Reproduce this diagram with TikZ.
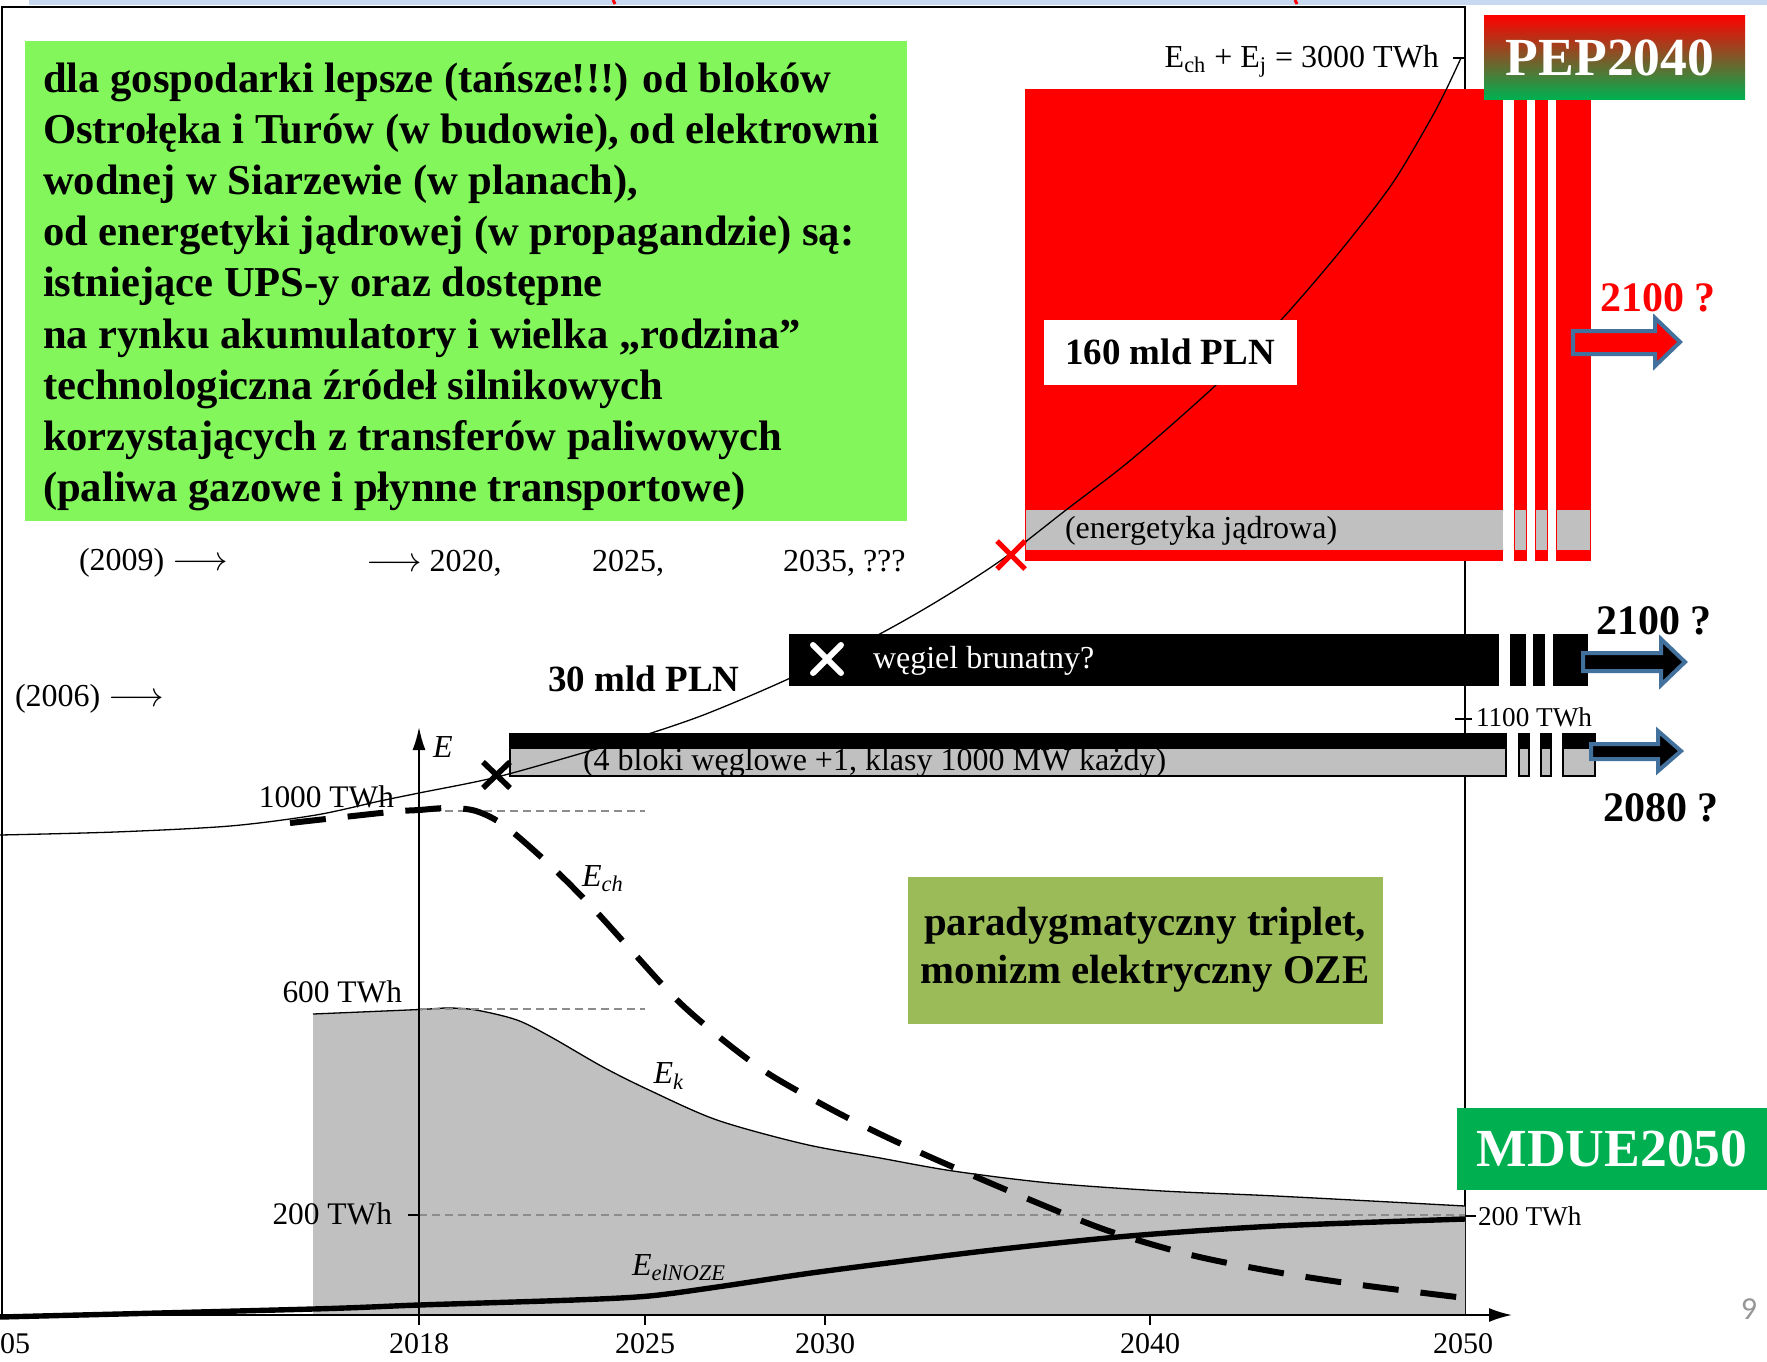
\documentclass[tikz,border=0pt]{standalone}
\usepackage{fontspec}
\setmainfont{Liberation Serif}
\newfontfamily\pagefont{Carlito}
\usetikzlibrary{arrows.meta}
\definecolor{cLime}{RGB}{130,246,90}
\definecolor{cOlive}{RGB}{155,187,89}
\definecolor{cMdue}{RGB}{0,176,80}
\definecolor{cArrow}{RGB}{65,113,156}
\definecolor{cGrayFill}{RGB}{192,192,192}
\definecolor{cDash}{RGB}{140,140,140}
\definecolor{cBand}{RGB}{198,217,241}
\definecolor{cPage}{RGB}{150,150,150}
\newcommand\setfs[2]{\fontsize{#1}{#2}\selectfont}
\tikzset{
  every node/.style={inner sep=0pt, outer sep=0pt},
  chartlbl/.style={font=\setfs{16}{19}},
  axlbl/.style={font=\setfs{15.7}{19}},
  smalllbl/.style={font=\setfs{13.6}{16}},
  yearlbl/.style={font=\setfs{15}{18}},
  boldlbl/.style={font=\bfseries\setfs{18.5}{22}},
  bigq/.style={font=\bfseries\setfs{21}{25}},
  badge/.style={font=\bfseries\setfs{26.8}{30}, text=white},
  gline/.style={font=\bfseries\setfs{21.3}{25.5}, anchor=base west},
  thincurve/.style={line width=0.65pt},
  graydash/.style={cDash, line width=1pt, dash pattern=on 4pt off 2.5pt},
  thickdash/.style={line width=3pt, dash pattern=on 18pt off 11pt},
  blockarrow/.style={draw=cArrow, line width=2pt, line join=miter},
  xmark/.style={line width=2.8pt}
}
\begin{document}
\begin{tikzpicture}[x=0.5pt,y=-0.5pt]
\useasboundingbox (0,0) rectangle (1767,1361);
\fill[white] (0,0) rectangle (1767,1361);

% top band
\fill[cBand] (29,0) rectangle (1767,4.5);
\draw[red, line width=1.5pt] (613,0) -- (615,4);
\draw[red, line width=1.5pt] (1295,0) -- (1297,4);

% frame
\draw[line width=0.75pt] (2,7) rectangle (1465,1315);

% green text box
\fill[cLime] (25,41) rectangle (907,521);
\node[gline] (g1) at (43,92) {dla gospodarki lepsze (tańsze!!!) od bloków};
\node[gline] (g2) at (43,143) {Ostrołęka i Turów (w budowie), od elektrowni};
\node[gline] (g3) at (43,194) {wodnej w Siarzewie (w planach),};
\node[gline] (g4) at (43,245) {od energetyki jądrowej (w propagandzie) są:};
\node[gline] (g5) at (43,296) {istniejące UPS-y oraz dostępne};
\node[gline] (g6) at (43,348) {na rynku akumulatory i wielka „rodzina”};
\node[gline] (g7) at (43,399) {technologiczna źródeł silnikowych};
\node[gline] (g8) at (43,450) {korzystających z transferów paliwowych};
\node[gline] (g9) at (43,501) {(paliwa gazowe i płynne transportowe)};

% year row
\node[chartlbl, anchor=west] (y2009) at (79,563) {(2009) $\longrightarrow$};
\node[chartlbl, anchor=west] (y2020) at (366,563) {$\longrightarrow$ 2020,};
\node[chartlbl, anchor=west] (y2025) at (592,563) {2025,};
\node[chartlbl, anchor=west] (y2035) at (783,563) {2035, ???};
\node[chartlbl, anchor=west] (y2006) at (15,699) {(2006) $\longrightarrow$};

% E_k area
\fill[cGrayFill] (313,1315) -- plot[smooth] coordinates {(313,1014) (419,1009.5) (448,1008) (476,1010) (517,1020) (551,1037) (603,1067) (649,1090) (717,1120) (804,1144) (880,1158) (953,1171) (1050,1183) (1163,1191) (1276,1196) (1465,1206)} -- (1465,1315) -- cycle;
\draw[thincurve] plot[smooth] coordinates {(313,1014) (419,1009.5) (448,1008) (476,1010) (517,1020) (551,1037) (603,1067) (649,1090) (717,1120) (804,1144) (880,1158) (953,1171) (1050,1183) (1163,1191) (1276,1196) (1465,1206)};

% reference dashed levels
\draw[graydash] (419,811) -- (645,811);
\draw[graydash] (419,1009) -- (645,1009);
\draw[graydash] (419,1215) -- (1465,1215);

% E_elNOZE
\draw[line width=2.7pt] plot[smooth] coordinates {(0,1317) (313,1309) (419,1305) (574,1300) (649,1296) (717,1287) (804,1274) (880,1264) (993,1250) (1129,1236) (1276,1226) (1465,1219)};

% E_ch dashed
\draw[thickdash] plot[smooth] coordinates {(290,823) (390,812) (419,810) (448,808) (476,811) (505,826) (551,866) (591,906) (631,950) (677,1000) (723,1040) (769,1074) (827,1107) (880,1134) (937,1160) (1021,1196) (1106,1230) (1191,1255) (1276,1272) (1361,1285) (1465,1298)};

% axes
\coordinate (xa0) at (0,1315);
\coordinate (xa1) at (1512,1315);
\coordinate (ya0) at (419,1325);
\coordinate (ya1) at (419,727);
\draw[line width=1pt, -{Latex[length=11.5pt,width=7pt]}] (xa0) -- (xa1);
\draw[line width=1pt, -{Latex[length=11.5pt,width=6.5pt]}] (ya0) -- (ya1);
\draw[line width=0.75pt] (645,1315) -- (645,1325);
\draw[line width=0.75pt] (825,1315) -- (825,1325);
\draw[line width=0.75pt] (1150,1315) -- (1150,1325);
\draw[line width=0.75pt] (408,1215) -- (419,1215);
\draw[line width=0.75pt] (1465,1216) -- (1476,1216);

% axis labels
\node[chartlbl, font=\itshape\setfs{16}{19}] (elab) at (443,747) {E};
\node[axlbl, anchor=east] (l1000) at (394,797) {1000 TWh};
\node[axlbl, anchor=east] (l600) at (402,992) {600 TWh};
\node[axlbl, anchor=east] (l200) at (392,1214) {200 TWh};
\node[smalllbl, anchor=west] (r200) at (1478,1216) {200 TWh};
\node[yearlbl] (t2005) at (0,1344) {2005};
\node[yearlbl] (t2018) at (419,1344) {2018};
\node[yearlbl] (t2025) at (645,1344) {2025};
\node[yearlbl] (t2030) at (825,1344) {2030};
\node[yearlbl] (t2040) at (1150,1344) {2040};
\node[yearlbl] (t2050) at (1463,1344) {2050};

\node[chartlbl] (ech) at (603,879) {\textit{E}\textsubscript{\textit{ch}}};
\node[chartlbl] (ek) at (669,1076) {\textit{E}\textsubscript{\textit{k}}};
\node[chartlbl] (eel) at (679,1268) {\textit{E}\textsubscript{\textit{elNOZE}}};

% red nuclear box
\fill[red] (1025,89) rectangle (1503,561);
\fill[red] (1514,89) rectangle (1527,561);
\fill[red] (1535,89) rectangle (1548,561);
\fill[red] (1556,89) rectangle (1591,561);
\fill[cGrayFill] (1026,510) rectangle (1503,550);
\fill[cGrayFill] (1515,510) rectangle (1526,550);
\fill[cGrayFill] (1536,510) rectangle (1547,550);
\fill[cGrayFill] (1557,510) rectangle (1590,550);
\node[chartlbl, anchor=west] (jadr) at (1065,531) {(energetyka jądrowa)};

% brown coal box
\fill[black] (789,634) rectangle (1499,686);
\fill[black] (1510,634) rectangle (1526,686);
\fill[black] (1533,634) rectangle (1545,686);
\fill[black] (1553,634) rectangle (1588,686);
\node[chartlbl, text=white, anchor=west] (brun) at (873,661) {węgiel brunatny?};

% 4 blocks bar
\fill[black] (509,733) rectangle (1507,777);
\fill[cGrayFill] (511,749) rectangle (1505,775);
\foreach \a/\b in {1518/1530,1540/1552,1562/1596}{
  \fill[black] (\a,733) rectangle (\b,777);
  \fill[cGrayFill] (\a+2,749) rectangle (\b-2,775);
}
\node[chartlbl, anchor=west] (bloki) at (583,763) {(4 bloki węglowe +1, klasy 1000 MW każdy)};

% Ech + Ej curve
\draw[thincurve] plot[smooth] coordinates {(0,835) (115,832) (230,826) (316,815) (380,801) (419,793) (497,777) (593,750) (645,735) (706,714) (786,680) (874,637) (936,602) (1000,561) (1066,510) (1132,459) (1216,385) (1281,320) (1342,249) (1392,184) (1428,124) (1445,92) (1461,58)};
\draw[line width=0.75pt] (1453,58) -- (1465,58);
\node[chartlbl, anchor=east] (esum) at (1439,61) {E\textsubscript{ch} + E\textsubscript{j} = 3000 TWh};

% X marks
\draw[xmark] (483,762) -- (510,788);
\draw[xmark] (483,788) -- (510,762);
\draw[red, line width=2.6pt] (997,541) -- (1025,569);
\draw[red, line width=2.6pt] (997,569) -- (1025,541);
\draw[white, line width=3pt, line cap=round] (813,645) -- (841,673);
\draw[white, line width=3pt, line cap=round] (813,673) -- (841,645);

% 160 mld PLN
\fill[white] (1044,320) rectangle (1297,385);
\node[boldlbl] (c160) at (1170,352) {160 mld PLN};
\node[boldlbl] (c30) at (644,679) {30 mld PLN};

% 1100 TWh
\draw[line width=0.75pt] (1455,719) -- (1472,719);
\node[smalllbl, anchor=west] (l1100) at (1476,717) {1100 TWh};

% block arrows
\filldraw[blockarrow, fill=red] (1573,331) -- (1655,331) -- (1655,318) -- (1680,342) -- (1655,366) -- (1655,354) -- (1573,354) -- cycle;
\filldraw[blockarrow, fill=black] (1583,653) -- (1661,653) -- (1661,639) -- (1685,662) -- (1661,685) -- (1661,671) -- (1583,671) -- cycle;
\filldraw[blockarrow, fill=black] (1591,744) -- (1658,744) -- (1658,731) -- (1681,751) -- (1658,771) -- (1658,759) -- (1591,759) -- cycle;
\node[bigq, text=red] (q1) at (1658,298) {2100 ?};
\node[bigq] (q2) at (1654,621) {2100 ?};
\node[bigq] (q3) at (1661,808) {2080 ?};

% PEP2040 badge
\shade[top color=red, middle color=black, bottom color=cMdue] (1484,15) rectangle (1745,99);
\node[badge] (pep) at (1610,58) {PEP2040};

% MDUE2050 badge
\fill[cMdue] (1457,1108) rectangle (1767,1190);
\node[badge] (mdue) at (1612,1149) {MDUE2050};

% triplet box
\fill[cOlive] (908,877) rectangle (1383,1024);
\node[align=center, font=\bfseries\setfs{20.4}{24}] (trip) at (1145,950) {paradygmatyczny triplet,\\monizm elektryczny OZE};

% page number
\node[font=\pagefont\setfs{16}{19}, text=cPage] (pg) at (1749,1309) {9};
\end{tikzpicture}
\end{document}
